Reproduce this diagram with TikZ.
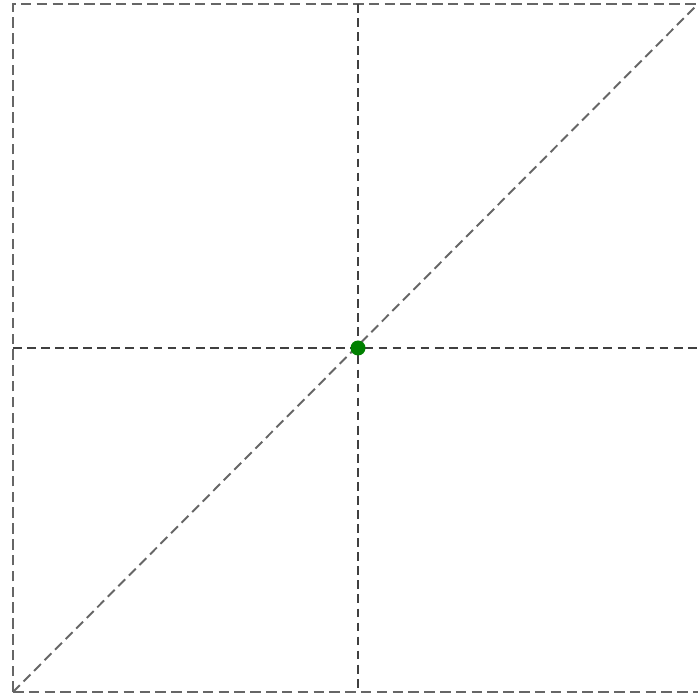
\documentclass[tikz,border=0pt]{standalone}
\usepackage{tikz}
\usetikzlibrary{positioning}

\begin{document}
\begin{tikzpicture}[
  frameline/.style={draw=black!60, line width=1.5pt, dash pattern=on 6pt off 3pt},
  midline/.style={draw=black!75, line width=1.1pt, dash pattern=on 5pt off 3pt},
  diagline/.style={draw=black!60, line width=1.1pt, dash pattern=on 5.5pt off 3pt},
  dotv/.style={circle, fill=green!50!black, inner sep=0pt, minimum size=3mm}
]
\useasboundingbox (0,0) rectangle (14,13.94);

\coordinate (bl) at (0.26, 0.10);
\coordinate (tl) at (0.26, 13.86);
\coordinate (tr) at (13.96, 13.86);
\coordinate (br) at (13.96, 0.10);
\coordinate (mt) at (7.16, 13.86);
\coordinate (mb) at (7.16, 0.10);
\coordinate (ml) at (0.26, 6.98);
\coordinate (mr) at (13.96, 6.98);

\draw[frameline] (bl) -- (tl) -- (tr);
\draw[frameline] (bl) -- (br);
\draw[midline] (mt) -- (mb);
\draw[midline] (ml) -- (mr);
\draw[diagline] (bl) -- (tr);
\node[dotv] (ctr) at (7.16, 6.98) {};

\end{tikzpicture}
\end{document}
